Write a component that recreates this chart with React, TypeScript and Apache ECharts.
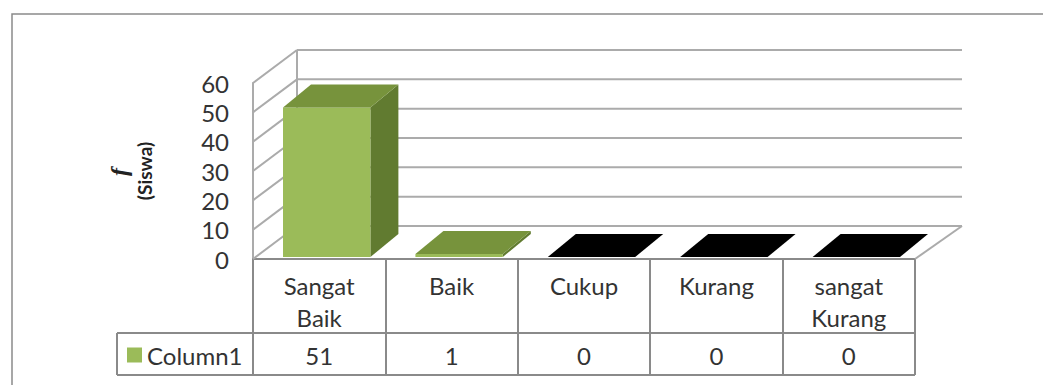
import React, { useEffect, useRef } from "react";
import * as echarts from "echarts";

const categories = ["Sangat\nBaik", "Baik", "Cukup", "Kurang", "sangat\nKurang"];
const seriesName = "Column1";
const column1 = [51, 1, 0, 0, 0];
const yTicks = [0, 10, 20, 30, 40, 50, 60];

const FONT = "Lato";
const TEXT = "#333333";
const LINE = "#8a8a8a";
const GRIDLINE = "#ababab";

export default function App() {
  const ref = useRef<HTMLDivElement>(null);
  useEffect(() => {
    if (!ref.current) return;
    const chart = echarts.init(ref.current, undefined, { renderer: "svg" });
    const DX = 44;
    const DY = -33;
    const RIGHT_BACK = 962;

    const option: any = {
      animation: false,
      backgroundColor: "#ffffff",
      grid: [{ left: 253, top: 83, width: 662, height: 176, containLabel: false }],
      legend: {
        data: [{ name: seriesName, icon: "rect" }],
        left: 127,
        top: 343,
        padding: 0,
        itemWidth: 15,
        itemHeight: 15,
        itemGap: 6,
        selectedMode: false,
        textStyle: { fontSize: 24, fontFamily: FONT, color: TEXT },
      },
      xAxis: [
        {
          type: "category",
          gridIndex: 0,
          data: categories,
          position: "bottom",
          axisLine: { show: true, lineStyle: { color: LINE, width: 2 } },
          axisTick: { show: true, length: 116, alignWithLabel: false, lineStyle: { color: LINE, width: 2 } },
          axisLabel: {
            interval: 0,
            fontSize: 24,
            lineHeight: 32,
            verticalAlign: "top",
            margin: 10,
            color: TEXT,
            fontFamily: FONT,
          },
          splitLine: { show: false },
        },
        {
          type: "category",
          gridIndex: 0,
          data: categories,
          position: "bottom",
          offset: 74,
          axisLine: { show: true, lineStyle: { color: LINE, width: 2 } },
          axisTick: { show: false },
          axisLabel: {
            interval: 0,
            fontSize: 24,
            verticalAlign: "middle",
            margin: 22,
            color: TEXT,
            fontFamily: FONT,
            formatter: (_v: string, idx: number) => String(column1[idx]),
          },
        },
      ],
      yAxis: [
        {
          type: "value",
          gridIndex: 0,
          min: 0,
          max: 60,
          interval: 10,
          axisLine: { show: true, lineStyle: { color: GRIDLINE, width: 2 } },
          axisTick: { show: false },
          splitLine: { show: false },
          axisLabel: { fontSize: 24, margin: 24, color: TEXT, fontFamily: FONT },
        },
      ],
      graphic: [
        {
          type: "rect",
          z: -10,
          shape: { x: 12, y: 14, width: 1200, height: 600 },
          style: { fill: "none", stroke: LINE, lineWidth: 1.5 },
          silent: true,
        },
        { type: "line", shape: { x1: 117, y1: 333, x2: 253, y2: 333 }, style: { stroke: LINE, lineWidth: 2 } },
        { type: "line", shape: { x1: 117, y1: 375, x2: 915, y2: 375 }, style: { stroke: LINE, lineWidth: 2 } },
        { type: "line", shape: { x1: 117, y1: 333, x2: 117, y2: 375 }, style: { stroke: LINE, lineWidth: 2 } },
        {
          type: "text",
          x: 119,
          y: 172,
          rotation: Math.PI / 2,
          style: {
            text: "f",
            font: "italic bold 24px 'Liberation Serif'",
            fill: "#222",
            align: "center",
            verticalAlign: "middle",
          },
        },
        {
          type: "text",
          x: 144,
          y: 171,
          rotation: Math.PI / 2,
          style: {
            text: "(Siswa)",
            font: "bold 19px Lato",
            fill: "#222",
            align: "center",
            verticalAlign: "middle",
          },
        },
      ],
      series: [
        {
          type: "custom",
          name: "walls",
          xAxisIndex: 0,
          yAxisIndex: 0,
          silent: true,
          data: yTicks.map((v) => [0, v]),
          encode: { x: 0, y: 1 },
          renderItem: (params: any, api: any) => {
            const v = api.value(1);
            const p = api.coord([0, v]);
            const bw = api.size([1, 0])[0];
            const left = p[0] - bw / 2;
            const children: any[] = [
              {
                type: "line",
                shape: { x1: left, y1: p[1], x2: left + DX, y2: p[1] + DY },
                style: { stroke: GRIDLINE, lineWidth: 2 },
              },
              {
                type: "line",
                shape: { x1: left + DX, y1: p[1] + DY, x2: RIGHT_BACK, y2: p[1] + DY },
                style: { stroke: GRIDLINE, lineWidth: 2 },
              },
            ];
            if (v === 0) {
              const top = api.coord([0, 60]);
              const right = left + bw * categories.length;
              children.push({
                type: "line",
                shape: { x1: left + DX, y1: p[1] + DY, x2: left + DX, y2: top[1] + DY },
                style: { stroke: GRIDLINE, lineWidth: 2 },
              });
              children.push({
                type: "line",
                shape: { x1: right, y1: p[1], x2: RIGHT_BACK, y2: p[1] + DY },
                style: { stroke: GRIDLINE, lineWidth: 2 },
              });
            }
            return { type: "group", children };
          },
        },
        {
          type: "custom",
          name: seriesName,
          xAxisIndex: 0,
          yAxisIndex: 0,
          itemStyle: { color: "#9BBB59" },
          data: column1.map((v, i) => [i, v]),
          encode: { x: 0, y: 1 },
          renderItem: (params: any, api: any) => {
            const i = api.value(0);
            const v = api.value(1);
            const base = api.coord([i, 0]);
            const topP = api.coord([i, v]);
            const bw = api.size([1, 0])[0];
            const w = bw * 0.66;
            const cx = base[0] + 7.5;
            const x0 = cx - w / 2;
            const x1 = cx + w / 2;
            const yb = base[1] - 2;
            const yt = topP[1] - 2;
            const dx = 28;
            const dy = -23;
            const zero = v === 0;
            const front = zero ? "#000" : "#9BBB59";
            const topC = zero ? "#000" : "#77933C";
            const side = zero ? "#000" : "#617B30";
            return {
              type: "group",
              children: [
                {
                  type: "polygon",
                  shape: { points: [[x1, yb], [x1, yt], [x1 + dx, yt + dy], [x1 + dx, yb + dy]] },
                  style: { fill: side },
                },
                {
                  type: "rect",
                  shape: { x: x0, y: yt, width: w, height: Math.max(0, yb - yt) },
                  style: { fill: front },
                },
                {
                  type: "polygon",
                  shape: { points: [[x0, yt], [x1, yt], [x1 + dx, yt + dy], [x0 + dx, yt + dy]] },
                  style: { fill: topC },
                },
              ],
            };
          },
        },
      ],
    };
    chart.setOption(option);
    return () => chart.dispose();
  }, []);
  return (
    <div
      ref={ref}
      style={{ position: "fixed", left: 0, top: 0, width: 1043, height: 385 }}
    />
  );
}
